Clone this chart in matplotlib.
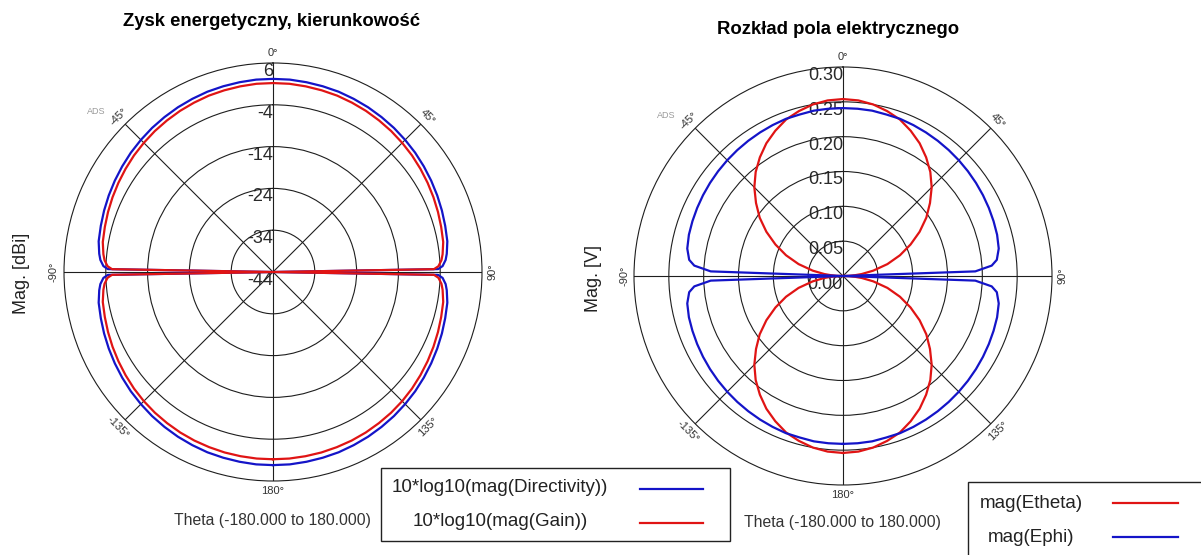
import numpy as np
import matplotlib
matplotlib.use("Agg")
import matplotlib.pyplot as plt
from matplotlib.patches import Rectangle
from matplotlib.lines import Line2D

plt.rcParams['font.family'] = ['Liberation Sans', 'DejaVu Sans']

# ---------------- data ----------------
# left chart (dB) sample angles
THETA_GAIN_DEG = [-180, -175, -170, -165, -160, -155, -150, -145, -140, -135, -130, -125, -120, -115, -110, -105, -100, -96, -94, -92, -91,
                  -90, -89, -88, -86, -84, -80, -75, -70, -65, -60, -55, -50, -45, -40, -35, -30, -25, -20, -15, -10, -5,
                  0, 5, 10, 15, 20, 25, 30, 35, 40, 45, 50, 55, 60, 65, 70, 75, 80, 84, 86, 88, 89,
                  90, 91, 92, 94, 96, 100, 105, 110, 115, 120, 125, 130, 135, 140, 145, 150, 155, 160, 165, 170, 175, 180]

DIRECTIVITY_DB = [2.2, 2.2, 2.1, 2.0, 1.9, 1.7, 1.5, 1.25, 1.0, 0.7, 0.4, 0.05, -0.3, -0.65, -1.0, -1.35, -1.65, -2.2, -2.6, -3.4, -4.5,
                  -44, -4.5, -3.4, -2.6, -2.2, -1.65, -1.35, -1.0, -0.65, -0.3, 0.05, 0.4, 0.7, 1.0, 1.25, 1.5, 1.7, 1.9, 2.0, 2.1, 2.2,
                  2.2, 2.2, 2.1, 2.0, 1.9, 1.7, 1.5, 1.25, 1.0, 0.7, 0.4, 0.05, -0.3, -0.65, -1.0, -1.35, -1.65, -2.2, -2.6, -3.4, -4.5,
                  -44, -4.5, -3.4, -2.6, -2.2, -1.65, -1.35, -1.0, -0.65, -0.3, 0.05, 0.4, 0.7, 1.0, 1.25, 1.5, 1.7, 1.9, 2.0, 2.1, 2.2, 2.2]

GAIN_DB = [0.8, 0.8, 0.75, 0.7, 0.6, 0.5, 0.35, 0.15, -0.05, -0.3, -0.6, -0.95, -1.3, -1.65, -2.0, -2.35, -2.65, -3.2, -3.6, -4.4, -5.5,
           -44, -5.5, -4.4, -3.6, -3.2, -2.65, -2.35, -2.0, -1.65, -1.3, -0.95, -0.6, -0.3, 0.0, 0.25, 0.5, 0.7, 0.9, 1.0, 1.1, 1.2,
           1.2, 1.2, 1.1, 1.0, 0.9, 0.7, 0.5, 0.25, 0.0, -0.3, -0.6, -0.95, -1.3, -1.65, -2.0, -2.35, -2.65, -3.2, -3.6, -4.4, -5.5,
           -44, -5.5, -4.4, -3.6, -3.2, -2.65, -2.35, -2.0, -1.65, -1.3, -0.95, -0.6, -0.3, -0.05, 0.15, 0.35, 0.5, 0.6, 0.7, 0.75, 0.8, 0.8]

# right chart (V) sample angles
THETA_FIELD_DEG = [-180, -175, -170, -165, -160, -155, -150, -145, -140, -135, -130, -125, -120, -115, -110, -105, -100, -96, -94, -92,
                   -90, -88, -86, -84, -80, -75, -70, -65, -60, -55, -50, -45, -40, -35, -30, -25, -20, -15, -10, -5,
                   0, 5, 10, 15, 20, 25, 30, 35, 40, 45, 50, 55, 60, 65, 70, 75, 80, 84, 86, 88,
                   90, 92, 94, 96, 100, 105, 110, 115, 120, 125, 130, 135, 140, 145, 150, 155, 160, 165, 170, 175, 180]

ETHETA_V = [0.254, 0.253, 0.250, 0.245, 0.239, 0.230, 0.220, 0.208, 0.195, 0.180, 0.163, 0.146, 0.127, 0.107, 0.087, 0.066, 0.044, 0.027, 0.018, 0.009,
            0.0, 0.009, 0.018, 0.027, 0.044, 0.066, 0.087, 0.107, 0.127, 0.146, 0.163, 0.180, 0.195, 0.208, 0.220, 0.230, 0.239, 0.245, 0.250, 0.253,
            0.254, 0.253, 0.250, 0.245, 0.239, 0.230, 0.220, 0.208, 0.195, 0.180, 0.163, 0.146, 0.127, 0.107, 0.087, 0.066, 0.044, 0.027, 0.018, 0.009,
            0.0, 0.009, 0.018, 0.027, 0.044, 0.066, 0.087, 0.107, 0.127, 0.146, 0.163, 0.180, 0.195, 0.208, 0.220, 0.230, 0.239, 0.245, 0.250, 0.253, 0.254]

EPHI_V = [0.241, 0.241, 0.241, 0.240, 0.240, 0.239, 0.238, 0.237, 0.236, 0.235, 0.234, 0.233, 0.232, 0.231, 0.230, 0.229, 0.227, 0.222, 0.214, 0.190,
          0.0, 0.190, 0.214, 0.222, 0.227, 0.229, 0.230, 0.231, 0.232, 0.233, 0.234, 0.235, 0.236, 0.237, 0.238, 0.239, 0.240, 0.240, 0.241, 0.241,
          0.241, 0.241, 0.241, 0.240, 0.240, 0.239, 0.238, 0.237, 0.236, 0.235, 0.234, 0.233, 0.232, 0.231, 0.230, 0.229, 0.227, 0.222, 0.214, 0.190,
          0.0, 0.190, 0.214, 0.222, 0.227, 0.229, 0.230, 0.231, 0.232, 0.233, 0.234, 0.235, 0.236, 0.237, 0.238, 0.239, 0.240, 0.240, 0.241, 0.241, 0.241]

LEFT_RTICKS = [6, -4, -14, -24, -34, -44]
RIGHT_RTICKS = [0.30, 0.25, 0.20, 0.15, 0.10, 0.05, 0.00]
RIGHT_RTICK_LABELS = ['0.30', '0.25', '0.20', '0.15', '0.10', '0.05', '0.00']
ANGLE_TICKS = [0, 45, 90, 135, 180, -135, -90, -45]
ANGLE_LABELS = ['0°', '45°', '90°', '135°', '180°', '-135°', '-90°', '-45°']

LEFT_TITLE = 'Zysk energetyczny, kierunkowość'
RIGHT_TITLE = 'Rozkład pola elektrycznego'
LEFT_SERIES = ['10*log10(mag(Directivity))', '10*log10(mag(Gain))']
RIGHT_SERIES = ['mag(Etheta)', 'mag(Ephi)']
XLABEL = 'Theta (-180.000 to 180.000)'

BLUE = '#1414c8'
RED = '#e01414'
GRID = '#1e1e1e'

W, H = 1201, 555
fig = plt.figure(figsize=(W / 100, H / 100), dpi=100)
fig.patch.set_facecolor('white')


def fx(x):
    return x / W


def fy(y):
    return 1 - y / H


def make_polar(cx, cy, R, rmin, rmax, ring_vals, tick_vals, tick_labels):
    ax = fig.add_axes([fx(cx - R), fy(cy + R), 2 * R / W, 2 * R / H], projection='polar')
    ax.set_theta_zero_location('N')
    ax.set_theta_direction(-1)
    ax.set_ylim(rmin, rmax)
    ax.set_yticks(ring_vals)
    ax.set_yticklabels([])
    ax.set_xticks(np.deg2rad([0, 45, 90, 135, 180, 225, 270, 315]))
    ax.set_xticklabels([])
    ax.grid(True, color=GRID, lw=0.8)
    ax.spines['polar'].set_color(GRID)
    ax.spines['polar'].set_linewidth(0.8)
    ax.tick_params(length=0)
    for v, lab in zip(tick_vals, tick_labels):
        ax.text(0, v, lab, ha='right', va='top', fontsize=13, color='#2a2a2a', zorder=1)
    off = 0.5 * (1 + 10.0 / R)
    for a, lab in zip(ANGLE_TICKS, ANGLE_LABELS):
        rot = -a
        while rot > 90:
            rot -= 180
        while rot <= -90:
            rot += 180
        ax.text(0.5 + off * np.sin(np.deg2rad(a)), 0.5 + off * np.cos(np.deg2rad(a)), lab,
                transform=ax.transAxes, ha='center', va='center', rotation=rot,
                fontsize=8, color='#333333')
    ax.text(0.5 - 177 / (2 * R), 0.5 + 161 / (2 * R), 'ADS', transform=ax.transAxes,
            ha='center', va='center', fontsize=6.5, color='#9a9a9a')
    return ax


# ---------------- left chart ----------------
axL = make_polar(273, 272, 209, -44, 6, [-34, -24, -14, -4], LEFT_RTICKS, [str(v) for v in LEFT_RTICKS])
thL = np.deg2rad(THETA_GAIN_DEG)
axL.plot(thL, DIRECTIVITY_DB, color=BLUE, lw=1.6, zorder=3)
axL.plot(thL, GAIN_DB, color=RED, lw=1.6, zorder=4)

# ---------------- right chart ----------------
axR = make_polar(843, 276, 209, 0, 0.30, [0.05, 0.10, 0.15, 0.20, 0.25], RIGHT_RTICKS, RIGHT_RTICK_LABELS)
thR = np.deg2rad(THETA_FIELD_DEG)
axR.plot(thR, ETHETA_V, color=RED, lw=1.6, zorder=3)
axR.plot(thR, EPHI_V, color=BLUE, lw=1.6, zorder=4)

# ---------------- titles & axis labels ----------------
fig.text(fx(272), fy(22), LEFT_TITLE, ha='center', va='center', fontsize=13.3, fontweight='bold')
fig.text(fx(838), fy(29), RIGHT_TITLE, ha='center', va='center', fontsize=13.3, fontweight='bold')
fig.text(fx(22), fy(273), 'Mag. [dBi]', rotation=90, ha='center', va='center', fontsize=13, color='#222222')
fig.text(fx(594), fy(278), 'Mag. [V]', rotation=90, ha='center', va='center', fontsize=13, color='#222222')
fig.text(fx(272), fy(520), XLABEL, ha='center', va='center', fontsize=11.3, color='#333333')
fig.text(fx(842), fy(523), XLABEL, ha='center', va='center', fontsize=11.3, color='#333333')

# ---------------- legends ----------------
fig.add_artist(Rectangle((fx(381), fy(541)), (730 - 381) / W, (541 - 468) / H,
                         transform=fig.transFigure, fill=False, ec='#222222', lw=1.0))
for lab, col, y in zip(LEFT_SERIES, [BLUE, RED], [488, 522]):
    fig.text(fx(500), fy(y), lab, ha='center', va='center', fontsize=13.5, color='#222222')
    fig.add_artist(Line2D([fx(640), fx(703)], [fy(y + 1), fy(y + 1)], transform=fig.transFigure, color=col, lw=1.6))

fig.add_artist(Rectangle((fx(968), fy(570)), (1215 - 968) / W, (570 - 482) / H,
                         transform=fig.transFigure, fill=False, ec='#222222', lw=1.0, clip_on=False))
for lab, col, y in zip(RIGHT_SERIES, [RED, BLUE], [503, 537]):
    fig.text(fx(1031), fy(y), lab, ha='center', va='center', fontsize=13.5, color='#222222')
    fig.add_artist(Line2D([fx(1113), fx(1178)], [fy(y), fy(y)], transform=fig.transFigure, color=col, lw=1.6))

fig.savefig('out.png', dpi=100, facecolor='white')
